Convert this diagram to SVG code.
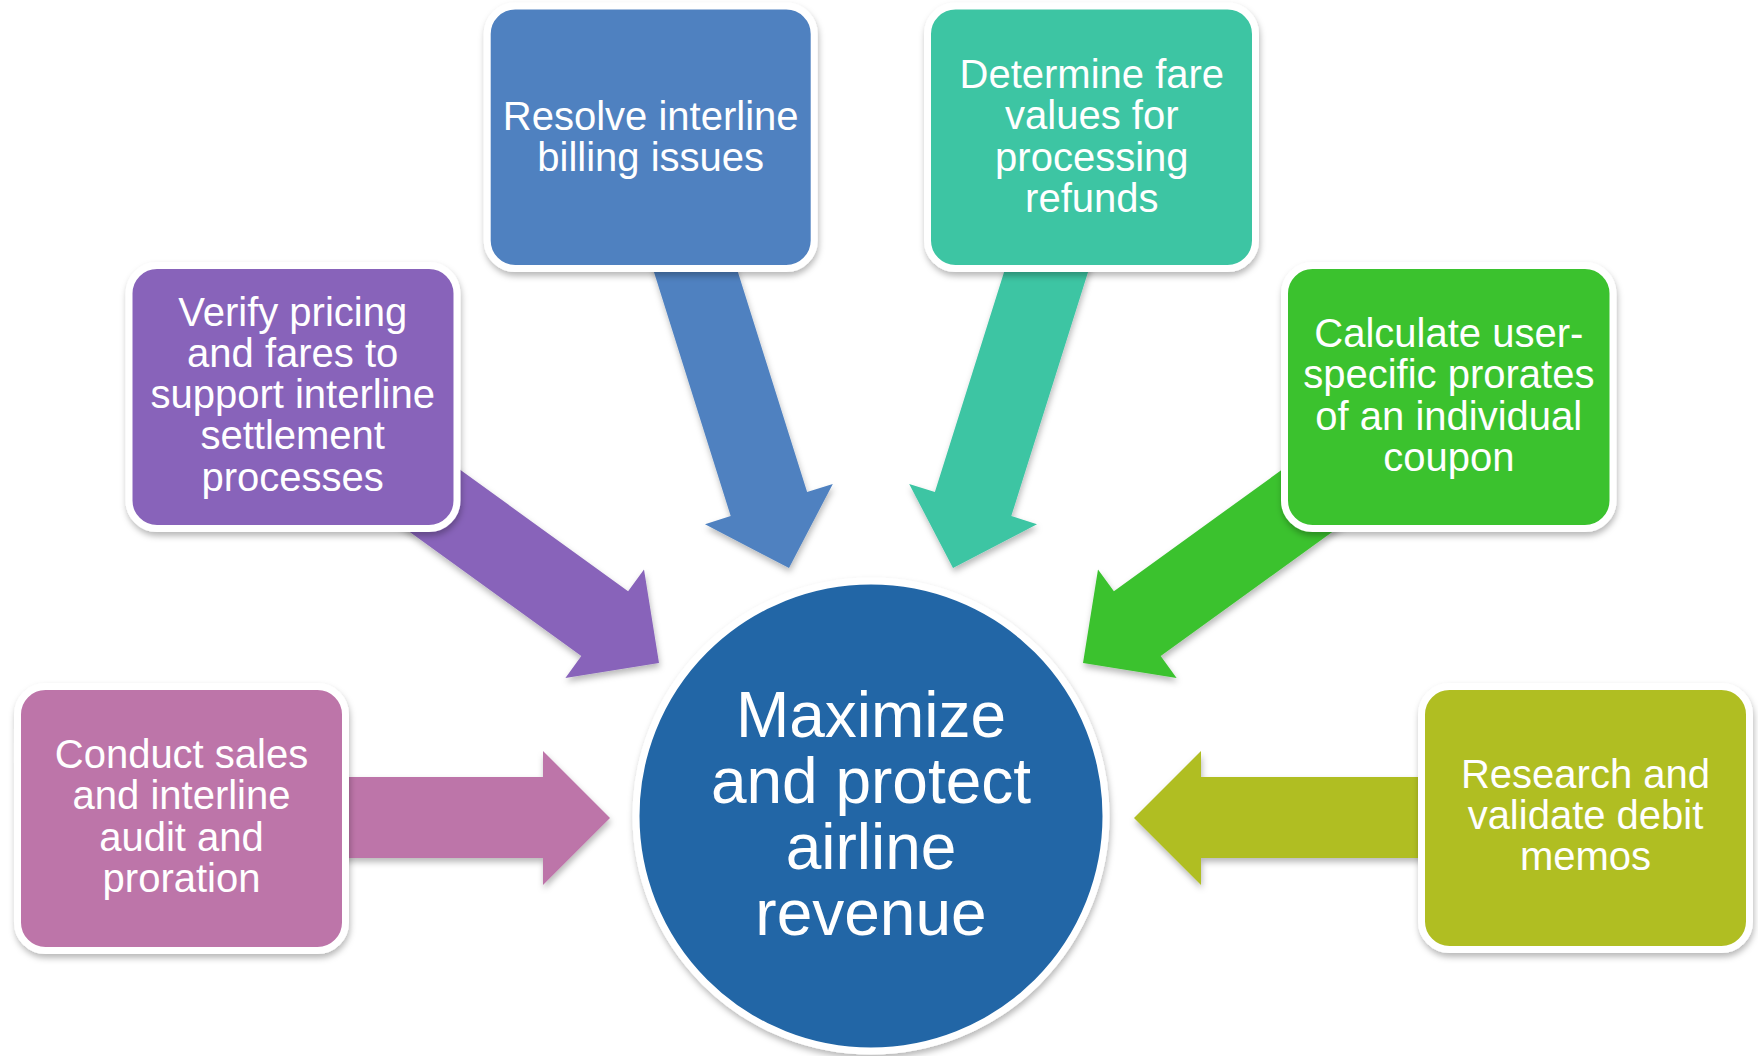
<svg xmlns="http://www.w3.org/2000/svg" width="1758" height="1056" viewBox="0 0 1758 1056">
  <defs>
    <filter id="sh" x="-10%" y="-10%" width="120%" height="125%">
      <feDropShadow dx="1" dy="4" stdDeviation="3" flood-color="#000" flood-opacity="0.28"/>
    </filter>
    <style>
      .box { stroke: #ffffff; stroke-width: 7; filter: url(#sh); }
      .arr { filter: url(#sh); }
      .lbl { font-family: "Liberation Sans", Arial, sans-serif; font-size: 40px; fill: #ffffff; text-anchor: middle; }
      .big { font-family: "Liberation Sans", Arial, sans-serif; font-size: 64px; fill: #ffffff; text-anchor: middle; }
    </style>
  </defs>
  <rect width="1758" height="1056" fill="#ffffff"/>

  <g id="connectors">
    <polygon class="arr" fill="#BD74A9" points="330,777 543,777 543,751 610,818 543,885 543,858 330,858"/>
    <polygon class="arr" fill="#8864BA" points="403.4,428.7 628.1,591.3 644,569.4 659,663 565.4,678 581.3,656.1 356.6,493.5"/>
    <polygon class="arr" fill="#4F81C0" points="711.5,188 807.1,492.1 832.8,484 789,568 705,524.2 730.7,516.1 635.1,212"/>
    <polygon class="arr" fill="#3CC5A3" points="1030.5,188 934.9,492.1 909.2,484 953,568 1037,524.2 1011.3,516.1 1106.9,212"/>
    <polygon class="arr" fill="#3BC22F" points="1338.6,428.7 1113.9,591.3 1098,569.4 1083,663 1176.6,678 1160.7,656.1 1385.4,493.5"/>
    <polygon class="arr" fill="#B0BE24" points="1440,777 1201,777 1201,751 1134,818 1201,885 1201,858 1440,858"/>
  </g>

  <g id="node-conduct">
    <rect class="box" fill="#BD74A9" x="17.5" y="686.5" width="328" height="264" rx="28"/>
    <text class="lbl"><tspan x="181.5" y="768">Conduct sales</tspan><tspan x="181.5" y="809.3">and interline</tspan><tspan x="181.5" y="850.6">audit and</tspan><tspan x="181.5" y="892">proration</tspan></text>
  </g>

  <g id="node-verify">
    <rect class="box" fill="#8864BA" x="129" y="265.5" width="328" height="263" rx="28"/>
    <text class="lbl"><tspan x="292.7" y="325.5">Verify pricing</tspan><tspan x="292.7" y="366.8">and fares to</tspan><tspan x="292.7" y="408.1">support interline</tspan><tspan x="292.7" y="449.4">settlement</tspan><tspan x="292.7" y="490.7">processes</tspan></text>
  </g>

  <g id="node-resolve">
    <rect class="box" fill="#4F81C0" x="487.2" y="6" width="327" height="262.5" rx="28"/>
    <text class="lbl"><tspan x="650.7" y="129.5">Resolve interline</tspan><tspan x="650.7" y="170.8">billing issues</tspan></text>
  </g>

  <g id="node-determine">
    <rect class="box" fill="#3CC5A3" x="927.5" y="6" width="328" height="262.5" rx="28"/>
    <text class="lbl"><tspan x="1091.8" y="88">Determine fare</tspan><tspan x="1091.8" y="129.3">values for</tspan><tspan x="1091.8" y="170.6">processing</tspan><tspan x="1091.8" y="212">refunds</tspan></text>
  </g>

  <g id="node-calculate">
    <rect class="box" fill="#3BC22F" x="1284.5" y="265.5" width="328.5" height="263" rx="28"/>
    <text class="lbl"><tspan x="1448.8" y="347">Calculate user-</tspan><tspan x="1448.8" y="388.3">specific prorates</tspan><tspan x="1448.8" y="429.6">of an individual</tspan><tspan x="1448.8" y="471">coupon</tspan></text>
  </g>

  <g id="node-research">
    <rect class="box" fill="#B0BE24" x="1421.5" y="686.5" width="328" height="263" rx="28"/>
    <text class="lbl"><tspan x="1585.5" y="787.5">Research and</tspan><tspan x="1585.5" y="828.8">validate debit</tspan><tspan x="1585.5" y="870.1">memos</tspan></text>
  </g>

  <g id="node-center">
    <circle class="box" fill="#2266A6" cx="871" cy="816" r="235"/>
    <text class="big"><tspan x="871" y="737">Maximize</tspan><tspan x="871" y="803">and protect</tspan><tspan x="871" y="869">airline</tspan><tspan x="871" y="935">revenue</tspan></text>
  </g>
</svg>
